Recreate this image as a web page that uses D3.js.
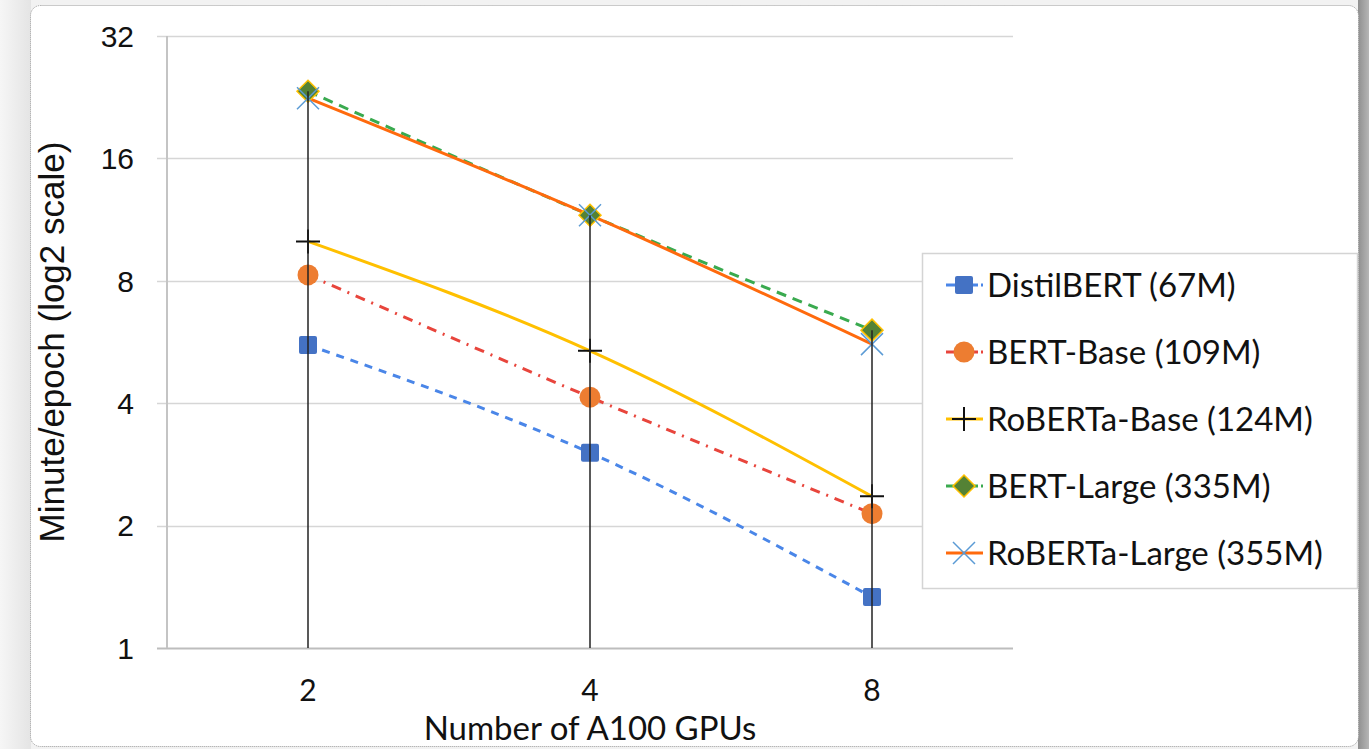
<!DOCTYPE html>
<html>
<head>
<meta charset="utf-8">
<script src="https://cdn.jsdelivr.net/npm/d3@7"></script>
<style>
  html, body { margin: 0; padding: 0; }
  body { width: 1369px; height: 749px; overflow: hidden; background: #ececec; }
  svg { display: block; }
</style>
</head>
<body>
<svg id="chart" width="1369" height="749"></svg>
<script>
// GPU 数量（x 轴分类）
const gpus = ['2', '4', '8'];
const yTicks = [1, 2, 4, 8, 16, 32];

// 每个模型的 minute/epoch
const distilBert = [5.56, 3.02, 1.335];
const bertBase = [8.27, 4.14, 2.14];
const robertaBase = [10.0, 5.38, 2.36];
const bertLarge = [23.4, 11.6, 6.05];
const robertaLarge = [22.5, 11.6, 5.59];

const seriesNames = [
  'DistilBERT (67M)',
  'BERT-Base (109M)',
  'RoBERTa-Base (124M)',
  'BERT-Large (335M)',
  'RoBERTa-Large (355M)'
];

const series = [
  { name: seriesNames[0], values: distilBert, line: '#4a86e8', dash: '8,7', marker: 'square' },
  { name: seriesNames[1], values: bertBase, line: '#e8453c', dash: '10,7,2,7', marker: 'circle' },
  { name: seriesNames[2], values: robertaBase, line: '#ffc000', dash: null, marker: 'plus' },
  { name: seriesNames[3], values: bertLarge, line: '#3aaa4f', dash: '10,7', marker: 'diamond' },
  { name: seriesNames[4], values: robertaLarge, line: '#ff6a0d', dash: null, marker: 'cross' }
];

const svg = d3.select('#chart');
const margin = { top: 36, bottom: 101, left: 167, right: 356 };
const W = 1369, H = 749;

// 背景：两侧灰色阴影 + 白色圆角面板
const defs = svg.append('defs');
const gl = defs.append('linearGradient').attr('id', 'leftShade');
gl.append('stop').attr('offset', 0).attr('stop-color', '#f6f6f6');
gl.append('stop').attr('offset', 1).attr('stop-color', '#e4e4e4');
const gr = defs.append('linearGradient').attr('id', 'rightShade');
gr.append('stop').attr('offset', 0).attr('stop-color', '#8f8f8f');
gr.append('stop').attr('offset', 1).attr('stop-color', '#b5b5b5');

svg.append('rect').attr('width', W).attr('height', H).attr('fill', '#f2f2f2');
svg.append('rect').attr('width', 31).attr('height', H).attr('fill', 'url(#leftShade)');
svg.append('rect').attr('x', 1358).attr('width', 11).attr('height', H).attr('fill', 'url(#rightShade)');
svg.append('rect')
  .attr('x', 30.5).attr('y', 5.5)
  .attr('width', 1328).attr('height', 741)
  .attr('rx', 10)
  .attr('fill', '#fff')
  .attr('stroke', '#9a9a9a')
  .attr('stroke-width', 1)
  .attr('stroke-dasharray', '1,1');

const x = d3.scalePoint(gpus, [margin.left, W - margin.right]).padding(0.5);
const y = d3.scaleLog().base(2).domain([1, 32]).range([H - margin.bottom, margin.top]);

const x0 = margin.left, x1 = W - margin.right;

// 网格线
svg.append('g')
  .selectAll('line')
  .data(yTicks)
  .join('line')
    .attr('x1', x0 - 10)
    .attr('x2', x1)
    .attr('y1', d => Math.round(y(d)) + 0.5)
    .attr('y2', d => Math.round(y(d)) + 0.5)
    .attr('stroke', d => d === 1 ? '#bdbdbd' : '#d6d6d6')
    .attr('stroke-width', d => d === 1 ? 2 : 1.5);

// y 轴竖线
svg.append('line')
  .attr('x1', x0).attr('x2', x0)
  .attr('y1', y(32)).attr('y2', y(1))
  .attr('stroke', '#c4c4c4')
  .attr('stroke-width', 2);

// y 轴刻度文字
svg.append('g')
  .selectAll('text')
  .data(yTicks)
  .join('text')
    .attr('x', 134)
    .attr('y', d => y(d))
    .attr('dy', '0.36em')
    .attr('text-anchor', 'end')
    .attr('font-family', '"Liberation Sans", Arial, sans-serif')
    .attr('font-size', 30)
    .attr('fill', '#111')
    .text(d => d);

// x 轴刻度文字
svg.append('g')
  .selectAll('text')
  .data(gpus)
  .join('text')
    .attr('x', d => x(d))
    .attr('y', 701)
    .attr('text-anchor', 'middle')
    .attr('font-family', 'Lato, "Noto Sans", sans-serif')
    .attr('font-size', 30)
    .attr('fill', '#111')
    .text(d => d);

// 轴标题
svg.append('text')
  .attr('x', x(gpus[1]))
  .attr('y', 740)
  .attr('text-anchor', 'middle')
  .attr('font-family', 'Lato, "Noto Sans", sans-serif')
  .attr('font-size', 33)
  .attr('fill', '#111')
  .text('Number of A100 GPUs');

svg.append('text')
  .attr('transform', `translate(64, ${(y(32) + y(1)) / 2}) rotate(-90)`)
  .attr('text-anchor', 'middle')
  .attr('font-family', '"Liberation Sans", Arial, sans-serif')
  .attr('font-size', 35)
  .attr('fill', '#111')
  .text('Minute/epoch (log2 scale)');

// 折线
const line = d3.line()
  .x((d, i) => x(gpus[i]))
  .y(d => y(d))
  .curve(d3.curveMonotoneX);

svg.append('g')
  .selectAll('path')
  .data(series)
  .join('path')
    .attr('d', d => line(d.values))
    .attr('fill', 'none')
    .attr('stroke', d => d.line)
    .attr('stroke-width', 3)
    .attr('stroke-dasharray', d => d.dash);

// 标记
function drawMarker(g, type) {
  if (type === 'square') {
    g.append('rect').attr('x', -9).attr('y', -9).attr('width', 18).attr('height', 18)
      .attr('rx', 2).attr('fill', '#4472c4');
  } else if (type === 'circle') {
    g.append('circle').attr('r', 10.5).attr('fill', '#ed7d31');
  } else if (type === 'plus') {
    g.append('path').attr('d', 'M-12,0H12M0,-12V12')
      .attr('stroke', '#111').attr('stroke-width', 2);
  } else if (type === 'diamond') {
    g.append('path').attr('d', 'M0,-11L11,0L0,11L-11,0Z')
      .attr('fill', '#548235').attr('stroke', '#ffc000').attr('stroke-width', 1.5);
  } else if (type === 'cross') {
    g.append('path').attr('d', 'M-11,-11L11,11M-11,11L11,-11')
      .attr('stroke', '#5b9bd5').attr('stroke-width', 1.5);
  }
}

series.forEach(s => {
  s.values.forEach((v, i) => {
    const g = svg.append('g').attr('transform', `translate(${x(gpus[i])}, ${y(v)})`);
    drawMarker(g, s.marker);
  });
});

// 垂线（从最高点到 x 轴）
svg.append('g')
  .selectAll('line')
  .data(gpus)
  .join('line')
    .attr('x1', d => x(d)).attr('x2', d => x(d))
    .attr('y1', (d, i) => y(d3.max(series, s => s.values[i])))
    .attr('y2', y(1))
    .attr('stroke', '#222')
    .attr('stroke-width', 1.5);

// 图例
const legend = svg.append('g').attr('transform', 'translate(922, 253)');
legend.append('rect')
  .attr('x', 0.5).attr('y', 0.5)
  .attr('width', 435).attr('height', 335)
  .attr('fill', '#fff')
  .attr('stroke', '#d4d4d4')
  .attr('stroke-width', 1.5);

const items = legend.selectAll('g.item')
  .data(series)
  .join('g')
    .attr('class', 'item')
    .attr('transform', (d, i) => `translate(0, ${32 + i * 67})`);

items.append('line')
  .attr('x1', 24).attr('x2', 61)
  .attr('stroke', d => d.line)
  .attr('stroke-width', 3)
  .attr('stroke-dasharray', d => d.dash ? '12,3,2,3' : null);

items.each(function (d) {
  const g = d3.select(this).append('g').attr('transform', 'translate(42, 0)');
  drawMarker(g, d.marker);
});

items.append('text')
  .attr('x', 65)
  .attr('dy', '0.36em')
  .attr('font-family', 'Lato, "Noto Sans", sans-serif')
  .attr('font-size', 33)
  .attr('fill', '#111')
  .text(d => d.name);
</script>
</body>
</html>
